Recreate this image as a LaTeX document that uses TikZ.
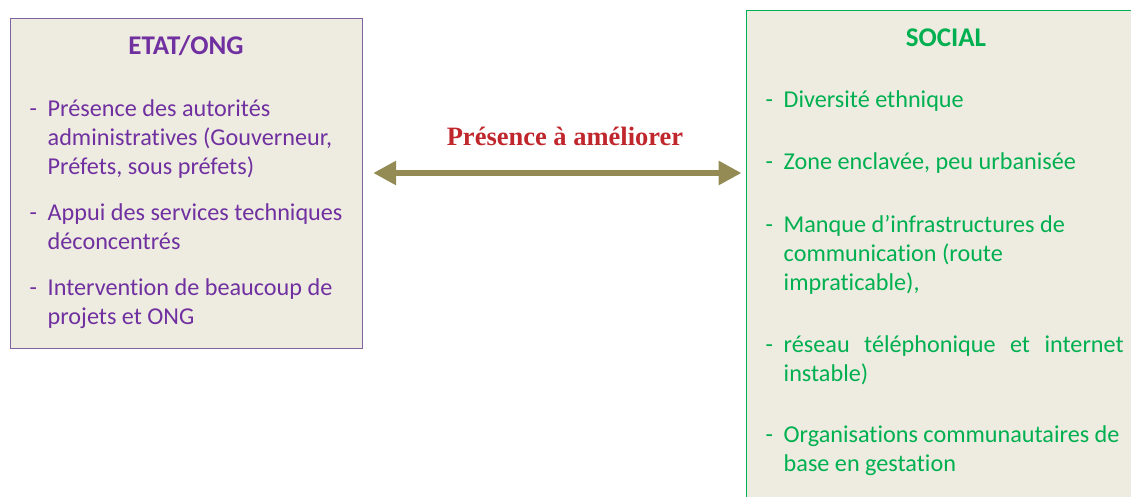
\documentclass[tikz,border=0pt]{standalone}
\usepackage{fontspec}
\setmainfont{Carlito}[Ligatures=NoCommon]
\newfontfamily\serifgras{Liberation Serif}
\usetikzlibrary{arrows.meta}

\definecolor{fond}{HTML}{EEECE1}
\definecolor{violetcadre}{HTML}{8064A2}
\definecolor{violettexte}{HTML}{7030A0}
\definecolor{vertsocial}{HTML}{00B050}
\definecolor{rougelien}{HTML}{C0272D}
\definecolor{olive}{HTML}{948A54}

% tiret suivi d'un texte en retrait
\newcommand{\tiret}[1]{\parbox[t]{380pt}{\hangindent=18pt\hangafter=1\makebox[18pt][l]{-}#1}}

\begin{document}
\begin{tikzpicture}[x=1pt, y=-1pt,
    boite/.style={rectangle, fill=fond, line width=1pt, inner sep=0pt},
    titre/.style={anchor=base, inner sep=0pt, font=\fontsize{27}{32}\selectfont\bfseries},
    puce/.style={anchor=base west, inner sep=0pt, font=\fontsize{24.2}{29}\selectfont},
    fleche/.style={draw=olive, line width=6.7pt, {Triangle[length=23pt,width=23pt]}-{Triangle[length=23pt,width=23pt]}}]
  \useasboundingbox (0,0) rectangle (1131,497);

  % Boites
  \node[boite, draw=violetcadre, minimum width=352pt, minimum height=329pt] (etat) at (186,183.5) {};
  \node[boite, draw=vertsocial, minimum width=400pt, minimum height=500pt] (social) at (946,261) {};

  % ETAT/ONG
  \node[titre, text=violettexte] (titreetat) at (186,55) {ETAT/ONG};
  \node[puce, text=violettexte] (autorites) at (29.5,117) {\tiret{Présence des autorités\newline administratives (Gouverneur,\newline Préfets, sous préfets)}};
  \node[puce, text=violettexte] (appui) at (29.5,220) {\tiret{Appui des services techniques\newline déconcentrés}};
  \node[puce, text=violettexte] (projets) at (29.5,295) {\tiret{Intervention de beaucoup de\newline projets et ONG}};

  % SOCIAL
  \node[titre, text=vertsocial] (titresocial) at (946,47) {SOCIAL};
  \node[puce, text=vertsocial] (diversite) at (765.5,108) {\tiret{Diversité ethnique}};
  \node[puce, text=vertsocial] (zone) at (765.5,170) {\tiret{Zone enclavée, peu urbanisée}};
  \node[puce, text=vertsocial] (manque) at (765.5,232) {\tiret{Manque d’infrastructures de\newline communication (route\newline impraticable),}};
  \node[puce, text=vertsocial] (reseau) at (765.5,352) {\tiret{\makebox[340pt][s]{réseau téléphonique et internet}\newline instable)}};
  \node[puce, text=vertsocial] (organisations) at (765.5,442) {\tiret{Organisations communautaires de\newline base en gestation}};

  % Lien
  \node[anchor=base, inner sep=0pt, text=rougelien, font=\serifgras\fontsize{26.5}{30}\selectfont\bfseries] (lien) at (565,146) {Présence à améliorer};
  \coordinate (axe) at (0,173);
  \draw[fleche, shorten <=10.7pt, shorten >=4pt] (etat.east |- axe) -- (social.west |- axe);
\end{tikzpicture}
\end{document}
